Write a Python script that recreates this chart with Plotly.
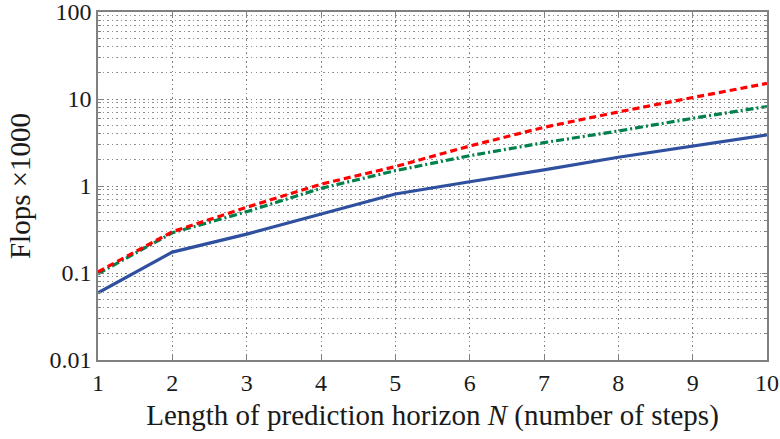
import plotly.graph_objects as go

horizon = [1, 2, 3, 4, 5, 6, 7, 8, 9, 10]
flops_blue = [0.059, 0.174, 0.28, 0.48, 0.81, 1.12, 1.53, 2.14, 2.88, 3.86]
flops_red = [0.103, 0.298, 0.569, 1.05, 1.67, 2.88, 4.73, 7.1, 10.4, 15.1]
flops_green = [0.098, 0.29, 0.507, 0.94, 1.50, 2.23, 3.15, 4.29, 6.0, 8.2]
y_tickvals = [0.01, 0.1, 1, 10, 100]
y_ticktext = ["0.01", "0.1", "1", "10", "100"]
y_minor = [m * d for d in [0.01, 0.1, 1, 10] for m in range(2, 10)]

fig = go.Figure()
fig.add_trace(go.Scatter(x=horizon, y=flops_blue, mode="lines",
                         line=dict(color="#2f4f9f", width=3.2)))
fig.add_trace(go.Scatter(x=horizon, y=flops_green, mode="lines",
                         line=dict(color="#00804a", width=3.2, dash="8px,3px,2px,3px")))
fig.add_trace(go.Scatter(x=horizon, y=flops_red, mode="lines",
                         line=dict(color="#ff0000", width=3.2, dash="7px,4px")))

font = dict(family="Liberation Serif", color="#1a1a1a")
grid_dash = "1.5px,3px"
fig.update_layout(
    width=780, height=439,
    margin=dict(l=98, r=13, t=12, b=79),
    plot_bgcolor="white", paper_bgcolor="white",
    showlegend=False,
    font=dict(size=24, **font),
)
fig.update_xaxes(
    range=[1, 10], tickvals=horizon, ticks="inside", ticklen=5, tickcolor="#808080",
    showline=True, linecolor="#808080", linewidth=1.5, mirror="ticks",
    showgrid=True, gridcolor="#808080", griddash=grid_dash, gridwidth=1,
    zeroline=False, tickfont=dict(size=24, **font), automargin=False,
    ticklabeloverflow="allow",
    title=dict(text="Length of prediction horizon <i>N</i> (number of steps)",
               font=dict(size=29, **font), standoff=10),
)
fig.update_yaxes(
    type="log", range=[-2, 2], tickvals=y_tickvals, ticktext=y_ticktext,
    ticks="inside", ticklen=5, tickcolor="#808080",
    showline=True, linecolor="#808080", linewidth=1.5, mirror="ticks",
    showgrid=True, gridcolor="#808080", griddash=grid_dash, gridwidth=1,
    minor=dict(tickvals=y_minor, showgrid=True, gridcolor="#909090", griddash=grid_dash,
               gridwidth=1, ticks="inside", ticklen=3, tickcolor="#808080"),
    zeroline=False, tickfont=dict(size=24, **font), automargin=False,
    ticklabeloverflow="allow",
    title=dict(text="Flops ×1000", font=dict(size=29, **font), standoff=10),
)
# remove the default page margin so the figure fills the 780x439 window exactly
fig.write_html("out.html", config={"displayModeBar": False},
               post_script="document.body.style.margin='0';")
